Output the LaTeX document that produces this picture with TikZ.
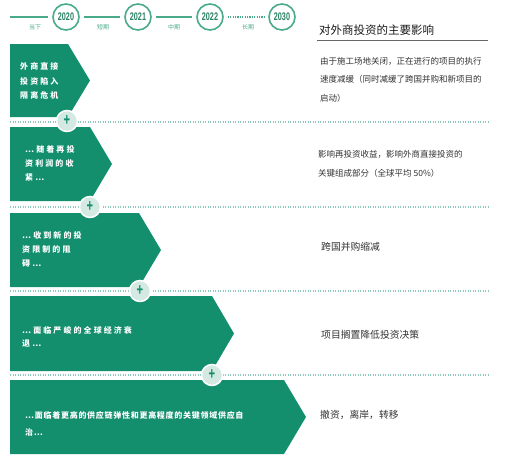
\documentclass[tikz,border=0pt]{standalone}
\usepackage{fontspec}
\setmainfont{Noto Sans CJK SC}
\newfontfamily\widecjk[LetterSpace=26]{Noto Sans CJK SC}
\newfontfamily\midcjk[LetterSpace=9]{Noto Sans CJK SC}
\newfontfamily\yearfont[FakeStretch=0.66]{Liberation Sans}
\definecolor{arrowgreen}{RGB}{20,143,110}
\definecolor{ringgreen}{RGB}{74,170,140}
\definecolor{yeargreen}{RGB}{40,130,100}
\definecolor{dotteal}{RGB}{140,200,190}
\definecolor{plusfill}{RGB}{212,233,225}
\definecolor{bodygray}{RGB}{50,50,50}
\begin{document}
\begin{tikzpicture}[x=1pt,y=-1pt,
  yearring/.style={circle, draw=ringgreen, line width=1.6pt, fill=white, minimum size=26pt, inner sep=0pt,
    font=\yearfont\bfseries\fontsize{11}{11}\selectfont, text=yeargreen},
  phase/.style={font=\fontsize{6}{6}\selectfont, text=ringgreen, inner sep=0pt},
  tline/.style={ringgreen, line width=1.6pt, shorten <=4pt, shorten >=4pt},
  sepline/.style={dotteal, line width=1.5pt, dash pattern=on 1.2pt off 1.3pt},
  plusdot/.style={circle, fill=plusfill, draw=white, line width=1.5pt, minimum size=21pt, inner sep=0pt,
    font=\yearfont\bfseries\fontsize{17}{17}\selectfont, text=arrowgreen},
  arrowtext/.style={anchor=west, align=left, text=white, inner sep=0pt},
  effect/.style={anchor=west, align=left, text=bodygray, inner sep=0pt, font=\fontsize{8.5}{18.5}\selectfont}]
  \useasboundingbox (0,0) rectangle (515,464);
  % timeline
  \coordinate (now) at (6,17);
  \node[yearring] (y2020) at (66,17) {2020};
  \node[yearring] (y2021) at (138,17) {2021};
  \node[yearring] (y2022) at (210,17) {2022};
  \node[yearring] (y2030) at (282,17) {2030};
  \draw[tline] (now) -- (y2020);
  \draw[tline] (y2020) -- (y2021);
  \draw[tline] (y2021) -- (y2022);
  \draw[tline, dash pattern=on 1.2pt off 1.2pt] (y2022) -- (y2030);
  \node[phase] at (35,27) {当下};
  \node[phase] at (103,27) {短期};
  \node[phase] at (174,27) {中期};
  \node[phase] at (248,27) {长期};
  % title
  \node[anchor=west, inner sep=0pt, font=\fontsize{11.5}{11.5}\selectfont, text=black!90] (title) at (319,30) {对外商投资的主要影响};
  \draw[black!60, line width=0.8pt] (317,40) -- (488,40);
  % separators
  \foreach \y in {122,207,291,375}
    \draw[sepline] (10,\y) -- (488,\y);
  % arrows
  \foreach \top/\bot/\body in {44/117/68, 127/201/90, 213/287/139, 296/371/212, 380/454/284}
    \fill[arrowgreen] (10,\top) -- (\body,\top) -- ({\body+22},{(\top+\bot)/2}) -- (\body,\bot) -- (10,\bot) -- cycle;
  % plus marks
  \node[plusdot] (p1) at (67,121) {+};
  \node[plusdot] (p2) at (90,207) {+};
  \node[plusdot] (p3) at (140,291) {+};
  \node[plusdot] (p4) at (212,375) {+};
  % arrow texts
  \node[arrowtext, font=\widecjk\bfseries\fontsize{8}{14.5}\selectfont] (t1) at (20,81) {外商直接\\投资陷入\\隔离危机};
  \node[arrowtext, font=\widecjk\bfseries\fontsize{8}{14}\selectfont] (t2) at (25,163) {…随着再投\\资利润的收\\紧…};
  \node[arrowtext, font=\widecjk\bfseries\fontsize{8}{14}\selectfont] (t3) at (22,249) {…收到新的投\\资限制的阻\\碍…};
  \node[arrowtext, font=\widecjk\bfseries\fontsize{8}{12.6}\selectfont] (t4) at (22,337) {…面临严峻的全球经济衰\\退…};
  \node[arrowtext, font=\midcjk\bfseries\fontsize{8}{17}\selectfont] (t5) at (25,423.5) {…面临着更高的供应链弹性和更高程度的关键领域供应自\\治…};
  % effects
  \node[effect] (e1) at (320,79.5) {由于施工场地关闭，正在进行的项目的执行\\速度减缓（同时减缓了跨国并购和新项目的\\启动）};
  \node[effect] (e2) at (318,164) {影响再投资收益，影响外商直接投资的\\关键组成部分（全球平均 50\%）};
  \node[effect, font=\fontsize{9.8}{12}\selectfont] (e3) at (321,247) {跨国并购缩减};
  \node[effect, font=\fontsize{9.8}{12}\selectfont] (e4) at (321,335) {项目搁置降低投资决策};
  \node[effect, font=\fontsize{9.8}{12}\selectfont] (e5) at (320,415) {撤资，离岸，转移};
\end{tikzpicture}
\end{document}
